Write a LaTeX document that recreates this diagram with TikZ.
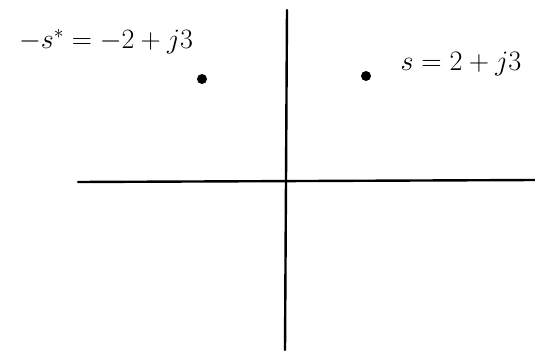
\documentclass[tikz,border=0pt]{standalone}
\usepackage{amsmath}
\usepackage{graphicx}
\usepackage{tikz}
\usetikzlibrary{positioning}

\begin{document}
\begin{tikzpicture}[x=1pt, y=-1pt,
    axis/.style={line width=2.4pt, line cap=round},
    pole/.style={circle, fill=black, inner sep=0pt, minimum size=10pt},
    lbl/.style={inner sep=0pt, font=\huge}]

\useasboundingbox (0,0) rectangle (535,356);

% axes
\coordinate (xl) at (78,182);
\coordinate (xr) at (535,180);
\coordinate (yt) at (287,10);
\coordinate (yb) at (285,350);
\draw[axis] (xl) -- (xr);
\draw[axis] (yt) -- (yb);

% points
\node[pole] (sneg) at (202,79) {};
\node[pole] (spos) at (366,76) {};

\node[lbl] (lneg) at (106,42) {\scalebox{1.35}{$-s^{*} = -2 + j3$}};
\node[lbl] (lpos) at (461,64) {\scalebox{1.36}{$s = 2 + j3$}};

\end{tikzpicture}
\end{document}
